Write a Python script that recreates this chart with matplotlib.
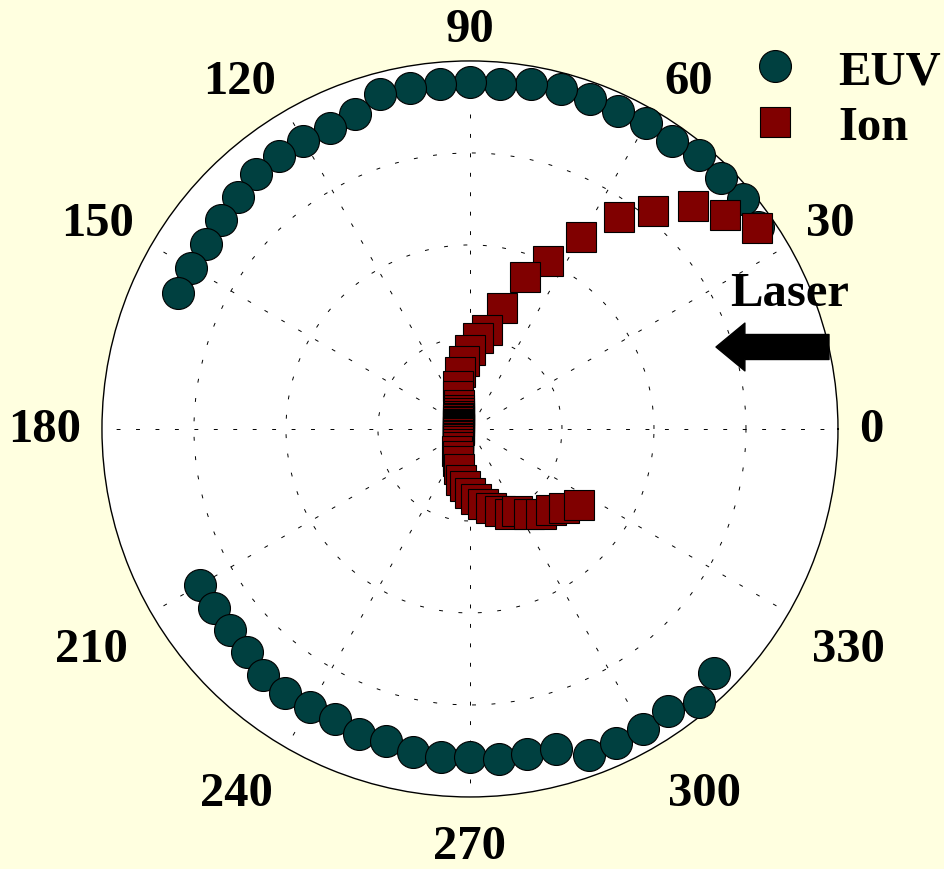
import matplotlib.pyplot as plt
import numpy as np

plt.rcParams['font.family'] = ['Liberation Serif', 'DejaVu Serif']
plt.rcParams['font.weight'] = 'bold'

# EUV emission (angle in degrees, normalised radius)
euv_angle = [35, 40, 45, 50, 55, 60, 65, 70, 75, 80, 85, 90, 95, 100, 105,
             110, 115, 120, 125, 130, 135, 140, 145, 150, 155,
             210, 215, 220, 225, 230, 235, 240, 245, 250, 255, 260, 265,
             270, 275, 280, 285, 290, 295, 300, 305, 310, 315]
euv_r = [0.955, 0.970, 0.965, 0.970, 0.955, 0.959, 0.954, 0.955, 0.957, 0.951,
         0.940, 0.942, 0.941, 0.942, 0.943, 0.911, 0.902, 0.905, 0.904, 0.906,
         0.891, 0.883, 0.877, 0.875, 0.874,
         0.848, 0.848, 0.851, 0.858, 0.873, 0.875, 0.871, 0.870, 0.881, 0.878,
         0.890, 0.896, 0.892, 0.900, 0.898, 0.900, 0.942, 0.941, 0.940, 0.937,
         0.970, 0.938]

# Ion signal
ion_angle = [35, 40, 45, 50, 55, 60, 65, 70, 75, 80, 85, 90, 95, 100, 105,
             110, 115, 120, 125, 130, 135, 140, 145, 150, 155, 160, 165, 170,
             175, 180, 185, 190, 195, 200, 205, 210, 215, 220, 225, 230, 235,
             240, 245, 250, 255, 260, 265, 270, 275, 280, 285, 290, 295, 300,
             305, 310, 315, 320, 325]
ion_r = [0.951, 0.905, 0.856, 0.774, 0.704, 0.603, 0.503, 0.438, 0.340, 0.272,
         0.247, 0.215, 0.185, 0.158, 0.122, 0.095, 0.073, 0.060, 0.052, 0.046,
         0.043, 0.041, 0.038, 0.036, 0.035, 0.034, 0.033, 0.032, 0.031, 0.031,
         0.031, 0.032, 0.033, 0.035, 0.036, 0.038, 0.041, 0.044, 0.047, 0.052,
         0.059, 0.068, 0.080, 0.093, 0.112, 0.140, 0.155, 0.174, 0.190, 0.207,
         0.222, 0.236, 0.255, 0.258, 0.281, 0.301, 0.313, 0.334, 0.361]

tick_angles = [0, 30, 60, 90, 120, 150, 180, 210, 240, 270, 300, 330]
tick_labels = ['0', '30', '60', '90', '120', '150', '180', '210', '240',
               '270', '300', '330']

fig = plt.figure(figsize=(9.44, 8.7), dpi=100, facecolor='#FFFFE0')
ax = fig.add_axes([0.108, 0.0828, 0.7797, 0.846], projection='polar')
ax.set_facecolor('white')

ax.plot(np.radians(euv_angle), euv_r, 'o', ms=23, mfc='#004040', mec='black',
        mew=0.8, label='EUV', clip_on=False, zorder=3)
ax.plot(np.radians(ion_angle), ion_r, 's', ms=21, mfc='#800000', mec='black',
        mew=0.8, label='Ion', clip_on=False, zorder=4)

ax.set_ylim(0, 1)
ax.set_rticks([0.25, 0.5, 0.75])
ax.set_yticklabels([])
ax.set_xticks(np.radians(tick_angles))
ax.set_xticklabels([])
ax.tick_params(axis='x', length=0)
ax.grid(True, color='black', linestyle=(0, (4, 16)), linewidth=0.7)
ax.spines['polar'].set_linewidth(1.0)

# angle labels placed outside the rim, aligned away from the circle
for ang, lab in zip(tick_angles, tick_labels):
    c, s = np.cos(np.radians(ang)), np.sin(np.radians(ang))
    ha = 'left' if c > 0.1 else ('right' if c < -0.1 else 'center')
    if s > 0.1:
        va, gap = 'baseline', 14.5
    elif s < -0.1:
        va, gap = 'top', 19.5
    else:
        va, gap = 'center', 15
    ax.annotate(lab, xy=(np.radians(ang), 1), xytext=(gap * c, gap * s),
                textcoords='offset points', ha=ha, va=va, fontsize=35,
                fontweight='bold', annotation_clip=False)

fig.legend(loc='upper left', bbox_to_anchor=(751 / 944, 1 - 50 / 870),
           frameon=False, prop={'size': 35, 'weight': 'bold'},
           handlelength=1.0, handletextpad=0.8, labelspacing=0.25,
           borderpad=0, borderaxespad=0)

fig.text(790 / 944, 1 - 294 / 870, 'Laser', ha='center', va='center',
         fontsize=35, fontweight='bold')
ax.annotate('', xy=(716 / 944, 1 - 348 / 870), xytext=(829 / 944, 1 - 348 / 870),
            xycoords='figure fraction', textcoords='figure fraction',
            arrowprops=dict(arrowstyle='simple, head_length=0.52, head_width=0.86, tail_width=0.45',
                            mutation_scale=40, color='black', shrinkA=0, shrinkB=0),
            annotation_clip=False)

fig.savefig('out.png', dpi=100, facecolor=fig.get_facecolor())
